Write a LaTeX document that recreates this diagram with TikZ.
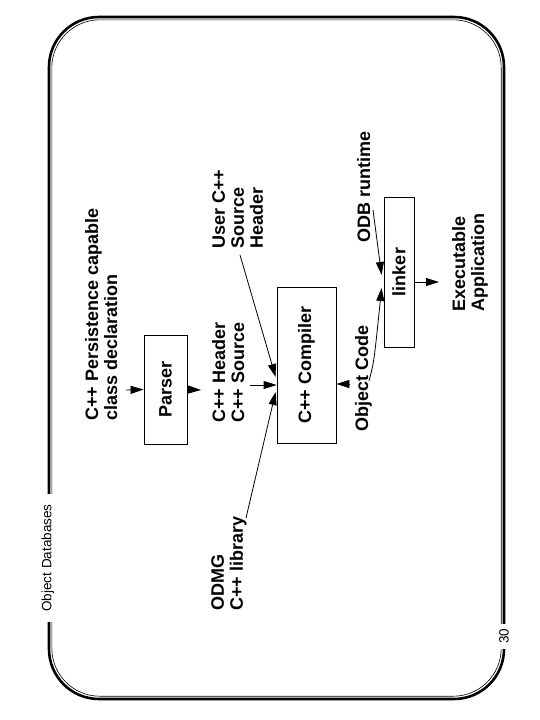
\documentclass[tikz,border=0pt]{standalone}
\usepackage{fontspec}
\setmainfont{Liberation Sans}
\usetikzlibrary{calc, arrows.meta}

\begin{document}
\begin{tikzpicture}[
  x=1pt, y=-1pt,
  >={Triangle[length=13pt, width=8pt]},
  stage/.style={draw, line width=0.8pt, rotate=90, inner sep=0pt, font=\bfseries\fontsize{18}{19}\selectfont},
  info/.style={rotate=90, anchor=north west, align=left, inner sep=0pt, font=\bfseries\fontsize{18}{19}\selectfont},
  slidetag/.style={rotate=90, fill=white, inner xsep=10pt, inner ysep=3pt, font=\fontsize{13.5}{15}\selectfont},
  flow/.style={->, line width=0.8pt}
]
  \useasboundingbox (0,0) rectangle (540,720);

  % slide frame
  \draw[line width=2.6pt, rounded corners=50pt] (49,17) rectangle (504,699);
  \draw[line width=0.6pt, rounded corners=48pt] (51.8,19.8) rectangle (501.2,696.2);
  \node[slidetag] (title) at (48,558) {Object Databases};
  \node[slidetag, inner xsep=5pt] (pageno) at (504,636) {30};

  % processing steps
  \node[stage, minimum width=109pt, minimum height=43pt] (parser) at (165.5,389.5) {Parser};
  \node[stage, minimum width=156pt, minimum height=59pt] (compiler) at (306.5,365) {C++ Compiler};
  \node[stage, minimum width=150pt, minimum height=30pt] (linker) at (399,272) {linker};

  % inputs and outputs
  \node[info] (persist) at (85,421) {C++ Persistence capable\\class declaration};
  \node[info] (hdrsrc) at (212,423) {C++ Header\\C++ Source};
  \node[info] (usersrc) at (212,249) {User C++\\Source\\Header};
  \node[info] (odmg) at (211,611) {ODMG\\C++ library};
  \node[info] (objcode) at (355,432) {Object Code};
  \node[info] (odbrt) at (357,243) {ODB runtime};
  \node[info] (exeapp) at (452,312) {Executable\\Application};

  \coordinate (pin) at (126,390);
  \coordinate (pout) at (201,390);
  \coordinate (hin) at (250,385);
  \coordinate (uin) at (240,255);
  \coordinate (oin) at (246,518);
  \coordinate (cout) at (349,384);
  \coordinate (ocin) at (369,381);
  \coordinate (rtin) at (373,210);
  \coordinate (lout) at (439,282);

  \draw[flow] (pin) -- (parser.north);
  \draw[flow] (parser.south) -- (pout);
  \draw[flow] (hin) -- (hin -| compiler.north);
  \draw[flow] (uin) -- ($(compiler.north)+(-1,12)$);
  \draw[flow] (oin) -- ($(compiler.north)+(-1,27)$);
  \draw[flow] (cout) -- (cout -| compiler.south);
  \draw[flow] (rtin) -- ($(linker.north)+(-2,3)$);
  \draw[flow] (ocin) .. controls (374,362) .. ($(linker.north)+(-2,16)$);
  \draw[flow] ($(linker.south)+(0,10)$) -- (lout);
\end{tikzpicture}
\end{document}
